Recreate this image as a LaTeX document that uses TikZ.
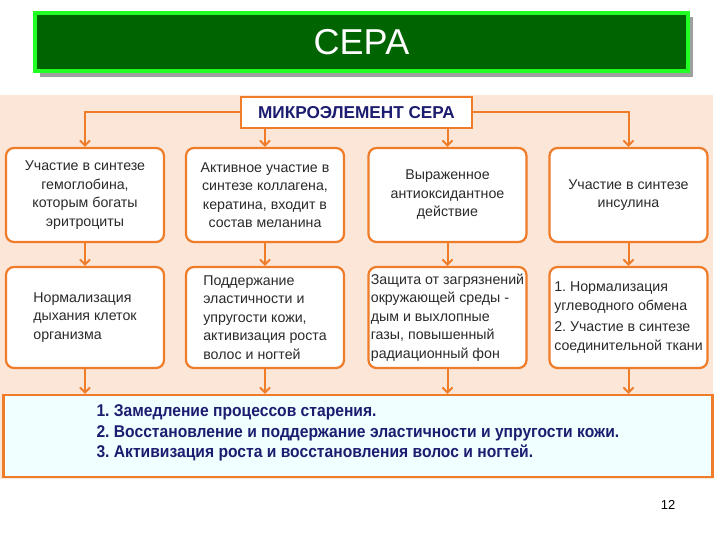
\documentclass[tikz,border=0pt]{standalone}
\usepackage{fontspec}
\setmainfont{Liberation Sans}
\newfontfamily\narrowbf[FakeStretch=0.92]{Liberation Sans}
\usetikzlibrary{arrows.meta}
\frenchspacing
\definecolor{titlegreen}{HTML}{006400}
\definecolor{brightgreen}{HTML}{22FF22}
\definecolor{peach}{HTML}{FCE6D8}
\definecolor{orng}{HTML}{EE7C28}
\definecolor{navy}{HTML}{1C1C70}
\definecolor{bodytxt}{HTML}{2A2A2A}
\definecolor{lightcyan}{HTML}{F0FFFF}
\tikzset{
  rowbox/.style={draw=orng, line width=2.2pt, rounded corners=8pt, fill=white,
    minimum width=158pt, align=center, text=bodytxt,
    font=\frenchspacing\fontsize{14.2}{18.5}\selectfont, inner sep=1pt},
  leftbox/.style={rowbox, align=left},
  conn/.style={draw=orng, line width=2pt, -{Straight Barb[length=5pt,width=10pt]}},
}
\begin{document}
\begin{tikzpicture}[x=1pt,y=-1pt]
\useasboundingbox (0,0) rectangle (720,540);
\fill[white] (0,0) rectangle (720,540);
% title
\fill[gray!75] (40,17) rectangle (693,77);
\node[draw=brightgreen, line width=4pt, fill=titlegreen, minimum width=653pt,
  minimum height=58pt, text=white, font=\fontsize{36}{40}\selectfont] (title) at (361.5,42) {СЕРА};
% panel
\fill[peach] (0,95) rectangle (713,479);
% top box
\node[draw=orng, line width=2.5pt, fill=white, minimum width=231pt, minimum height=31pt,
  text=navy, font=\bfseries\fontsize{17.2}{20}\selectfont] (top) at (356.5,112.5) {МИКРОЭЛЕМЕНТ СЕРА};
% row 1
\node[rowbox, minimum height=94pt] (r1a) at (85,195) {Участие в синтезе\\гемоглобина,\\которым богаты\\эритроциты};
\node[rowbox, minimum height=94pt] (r1b) at (265,195) {Активное участие в\\синтезе коллагена,\\кератина, входит в\\состав меланина};
\node[rowbox, minimum height=94pt] (r1c) at (447.5,195) {Выраженное\\антиоксидантное\\действие};
\node[rowbox, minimum height=94pt] (r1d) at (628.5,195) {Участие в синтезе\\инсулина};
% row 2
\node[leftbox, minimum height=101pt] (r2a) at (85,317.5) {Нормализация\\дыхания клеток\\организма};
\node[leftbox, minimum height=101pt] (r2b) at (265,317.5) {Поддержание\\эластичности и\\упругости кожи,\\активизация роста\\волос и ногтей};
\node[leftbox, minimum height=101pt] (r2c) at (447.5,317.5) {Защита от загрязнений\\окружающей среды -\\дым и выхлопные\\газы, повышенный\\радиационный фон};
\node[leftbox, minimum height=101pt] (r2d) at (628.5,317.5) {1. Нормализация\\углеводного обмена\\[3pt]2. Участие в синтезе\\соединительной ткани};
% bottom box
\node[draw=orng, line width=2.2pt, fill=lightcyan, minimum width=709pt, minimum height=82pt] (bot) at (358,436) {};
\node[anchor=west, align=left, text=navy, font=\frenchspacing\narrowbf\bfseries\fontsize{17}{20.5}\selectfont] (bottxt) at (93,433)
  {1. Замедление процессов старения.\\2. Восстановление и поддержание эластичности и упругости кожи.\\3. Активизация роста и восстановления волос и ногтей.};
% page number
\node[font=\fontsize{13}{15}\selectfont] (pg) at (668,505) {12};
% connectors
\draw[conn] (top.west) -| (r1a.north);
\draw[conn] (top.east) -| (r1d.north);
\draw[conn] (top.south -| r1b.north) -- (r1b.north);
\draw[conn] (top.south -| r1c.north) -- (r1c.north);
\foreach \a/\b in {r1a/r2a, r1b/r2b, r1c/r2c, r1d/r2d}{
  \draw[conn] (\a.south) -- (\b.north);
  \draw[conn] (\b.south) -- (bot.north -| \b.south);
}
\end{tikzpicture}
\end{document}
